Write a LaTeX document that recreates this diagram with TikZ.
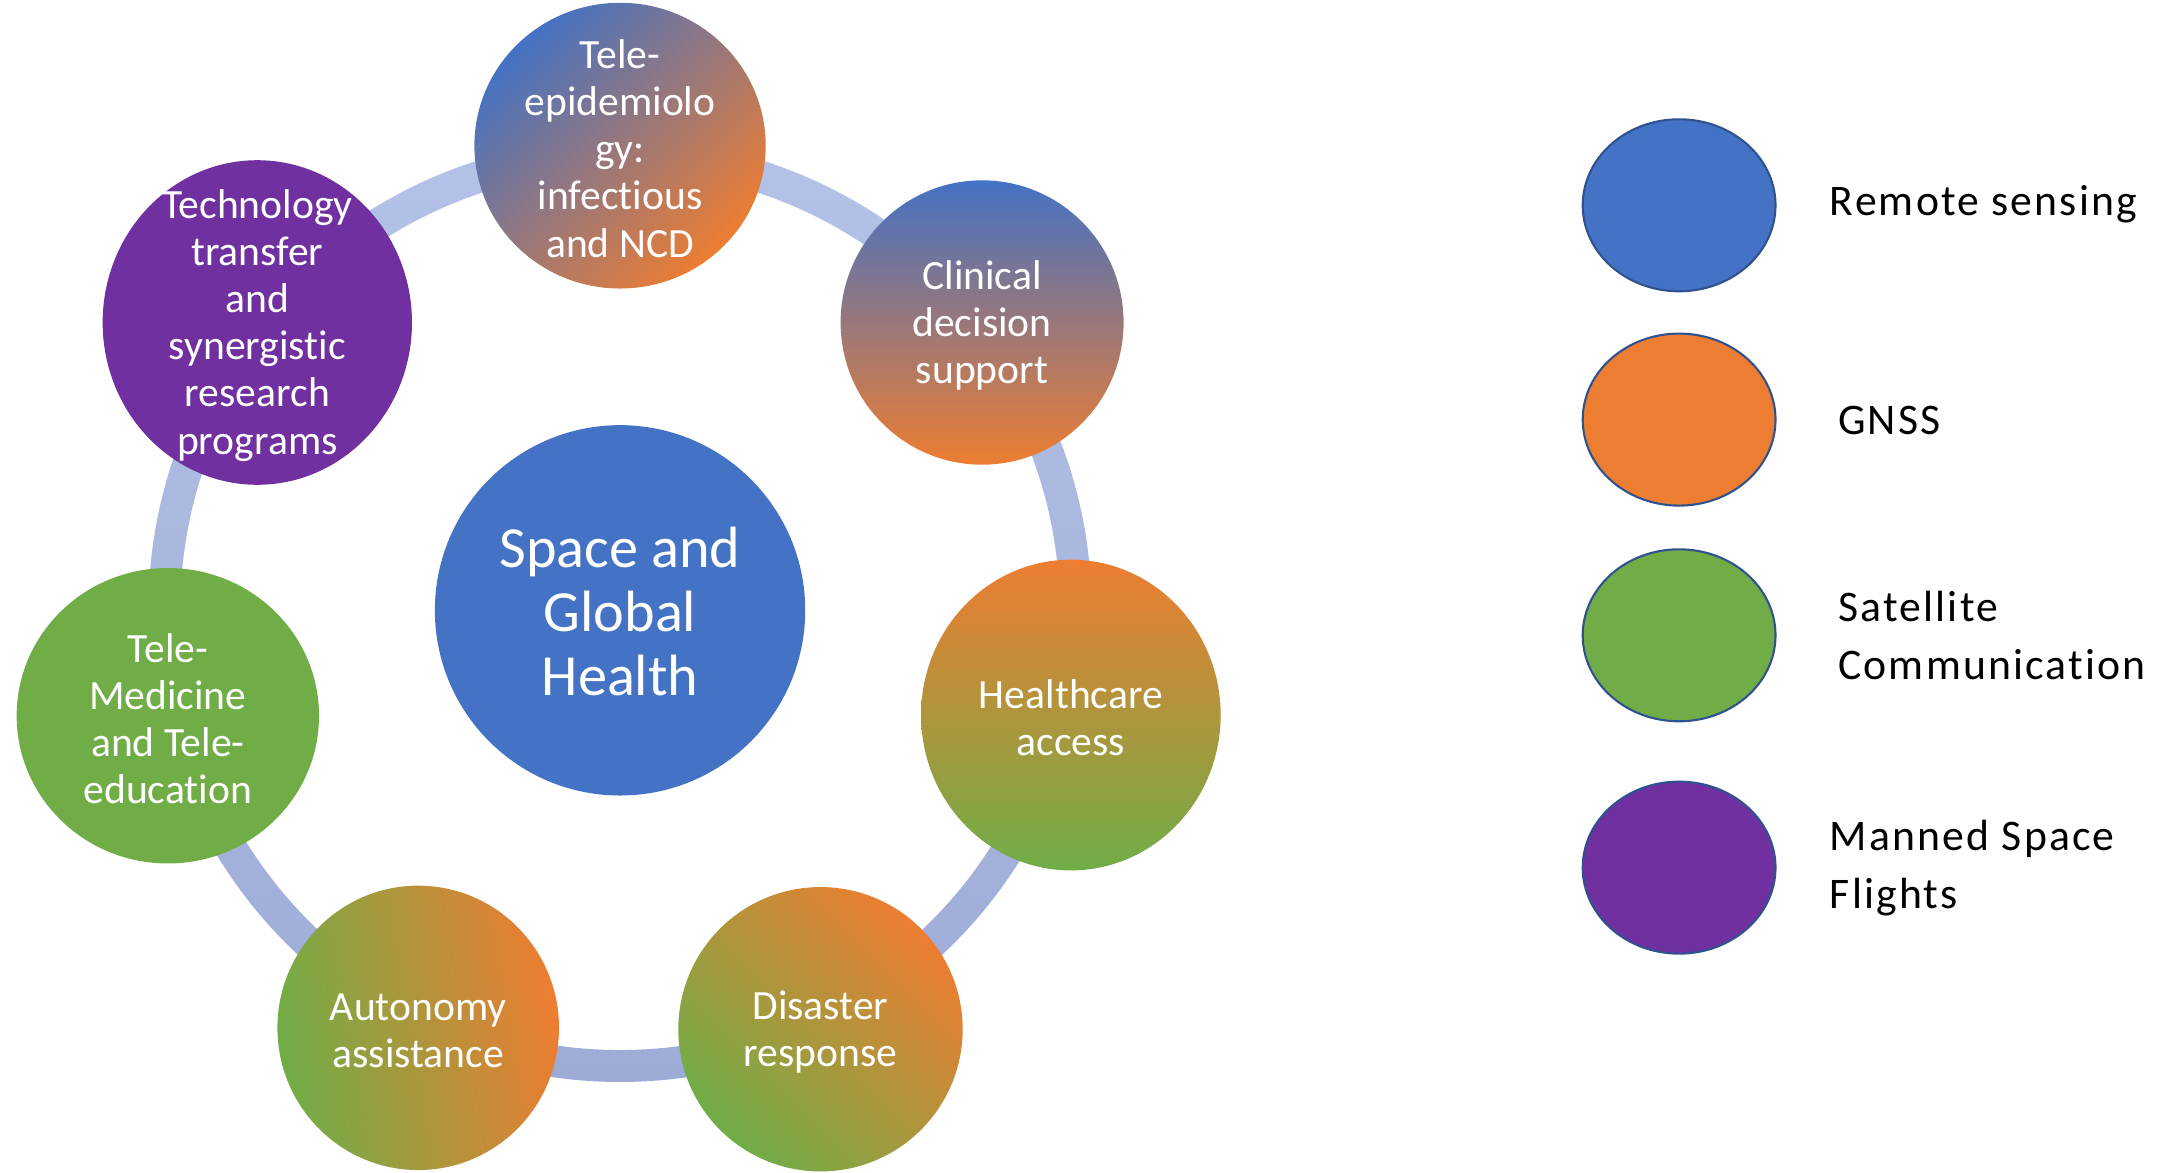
\documentclass[tikz,border=0pt]{standalone}
\usepackage{fontspec}
\setmainfont[Ligatures=NoCommon]{Carlito}
\newfontfamily\legfont[LetterSpace=5,Ligatures=NoCommon]{Carlito}
\usetikzlibrary{shapes.geometric}
\definecolor{cblue}{HTML}{4472C4}
\definecolor{corange}{HTML}{ED7D31}
\definecolor{cgreen}{HTML}{70AD47}
\definecolor{cpurple}{HTML}{7030A0}
\definecolor{ringtop}{HTML}{B3C2E6}
\definecolor{ringbot}{HTML}{9DABD7}
\definecolor{legline}{HTML}{2F528F}
\tikzset{
  sat/.style={ellipse, inner sep=0pt},
  sattext/.style={inner sep=0pt, text=white, align=center, yshift=-2pt,
    font=\fontsize{30pt}{34pt}\selectfont},
  hub/.style={circle, inner sep=0pt, fill=cblue, minimum size=267pt},
  hubtext/.style={inner sep=0pt, text=white, align=center, yshift=-1pt,
    font=\fontsize{42pt}{46pt}\selectfont},
  legell/.style={ellipse, draw=legline, line width=1.5pt, minimum width=139pt,
    minimum height=124pt, inner sep=0pt},
  legtext/.style={anchor=west, align=left, text=black, inner sep=0pt,
    font=\legfont\fontsize{31.5pt}{42pt}\selectfont}
}
\begin{document}
\begin{tikzpicture}[x=1pt, y=-1pt]
\useasboundingbox (0,0) rectangle (1568,845);
% ring
\coordinate (ce) at (447,440);
\path[even odd rule, top color=ringtop, bottom color=ringbot]
  (ce) circle[radius=340] (ce) circle[radius=317];
% hub
\node[hub] (hub) at (ce) {};
\node[hubtext] (hubT) at (hub) {Space and\\Global\\Health};
% satellites
\node[sat, minimum width=210pt, minimum height=206pt, top color=cblue, bottom color=corange, shading angle=45]
  (epi) at (447,105) {};
\node[sattext] (epiT) at (epi) {Tele-\\epidemiolo\\gy:\\infectious\\and NCD};
\node[sat, minimum width=204pt, minimum height=205pt, top color=cblue, bottom color=corange]
  (cds) at (708,232.5) {};
\node[sattext] (cdsT) at (cds) {Clinical\\decision\\support};
\node[sat, minimum width=216pt, minimum height=224pt, top color=corange, bottom color=cgreen]
  (hca) at (772,515.5) {};
\node[sattext] (hcaT) at (hca) {Healthcare\\access};
\node[sat, minimum width=205pt, minimum height=205pt, top color=corange, bottom color=cgreen, shading angle=-45]
  (dis) at (591.5,742) {};
\node[sattext] (disT) at (dis) {Disaster\\response};
\node[sat, minimum width=203pt, minimum height=205pt, top color=corange, bottom color=cgreen, shading angle=-80]
  (aut) at (301.5,741) {};
\node[sattext] (autT) at (aut) {Autonomy\\assistance};
\node[sat, minimum width=218pt, minimum height=213pt, fill=cgreen]
  (tme) at (121,516) {};
\node[sattext] (tmeT) at (tme) {Tele-\\Medicine\\and Tele-\\education};
\node[sat, minimum width=223pt, minimum height=234pt, fill=cpurple]
  (tec) at (185.5,232.5) {};
\node[sattext] (tecT) at (tec) {Technology\\transfer\\and\\synergistic\\research\\programs};
% legend
\node[legell, fill=cblue] (l1) at (1210.5,148) {};
\node[legell, fill=corange] (l2) at (1210.5,302.5) {};
\node[legell, fill=cgreen] (l3) at (1210.5,458) {};
\node[legell, fill=cpurple] (l4) at (1210.5,625.5) {};
\node[legtext] (t1) at (1319,147) {Remote sensing};
\node[legtext] (t2) at (1325,303) {GNSS};
\node[legtext] (t3) at (1325,458) {Satellite\\Communication};
\node[legtext] (t4) at (1319,626) {Manned Space\\Flights};
\end{tikzpicture}
\end{document}
